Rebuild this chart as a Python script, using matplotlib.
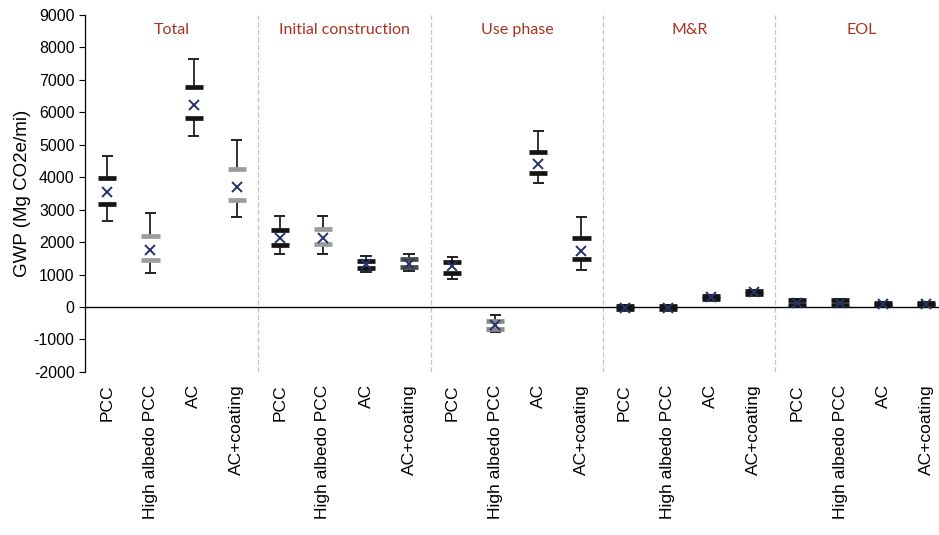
import numpy as np
import matplotlib.pyplot as plt

plt.rcParams['axes.unicode_minus'] = False

# group titles and the four pavement cases in each group
groups = ['Total', 'Initial construction', 'Use phase', 'M&R', 'EOL']
cases = ['PCC', 'High albedo PCC', 'AC', 'AC+coating']

# GWP statistics (Mg CO2e/mi), 20 categories in order
gwp_max = [4650, 2900, 7650, 5140,
           2800, 2800, 1570, 1640,
           1540, -240, 5420, 2770,
           60, 60, 370, 520,
           260, 260, 150, 150]
gwp_q3 = [3980, 2200, 6770, 4240,
          2380, 2390, 1415, 1490,
          1385, -440, 4780, 2125,
          30, 30, 330, 490,
          200, 200, 130, 130]
gwp_mean = [3530, 1760, 6210, 3700,
            2130, 2120, 1310, 1330,
            1250, -545, 4420, 1710,
            -20, -20, 300, 450,
            130, 130, 90, 90]
gwp_q1 = [3165, 1450, 5830, 3295,
          1920, 1950, 1200, 1230,
          1055, -680, 4140, 1487,
          -50, -50, 260, 410,
          60, 60, 50, 50]
gwp_min = [2660, 1035, 5275, 2760,
           1620, 1620, 1080, 1110,
           870, -760, 3830, 1130,
           -80, -80, 230, 380,
           20, 20, 20, 20]

# colour of the thick quartile bars per category
bar_colors = ['#151515', '#9c9c9c', '#151515', '#9c9c9c',
              '#151515', '#9c9c9c', '#151515', '#4a4a4a',
              '#151515', '#8a8a8a', '#151515', '#151515',
              '#151515', '#151515', '#151515', '#151515',
              '#151515', '#151515', '#151515', '#151515']

labels = cases * len(groups)
x = np.arange(len(labels))

fig = plt.figure(figsize=(9.39, 5.35), dpi=100)
ax = fig.add_axes([0.0905, 0.305, 0.912, 0.667])

ax.axhline(0, color='black', lw=1.0, zorder=1)
for i in range(1, len(groups)):
    ax.axvline(i * 4 - 0.5, color='#bcc3d6', lw=0.9, ls=(0, (4, 2)), zorder=0)

cap_w = 0.13
bar_w = 0.21
for i in x:
    ax.vlines(i, gwp_q3[i], gwp_max[i], color='#222222', lw=1.3, zorder=2)
    ax.vlines(i, gwp_min[i], gwp_q1[i], color='#222222', lw=1.3, zorder=2)
    ax.hlines([gwp_max[i], gwp_min[i]], i - cap_w, i + cap_w,
              color='#222222', lw=1.4, zorder=2)
    ax.hlines([gwp_q3[i], gwp_q1[i]], i - bar_w, i + bar_w,
              color=bar_colors[i], lw=3.4, zorder=3)
ax.plot(x, gwp_mean, ls='none', marker='x', ms=7.5, mew=1.4,
        color='#27326a', zorder=4)

for g, name in enumerate(groups):
    ax.text(g * 4 + 1.5, 8550, name, ha='center', va='center',
            fontsize=11.5, color='#a8321e', family='Lato')

ax.set_xlim(-0.52, 19.35)
ax.set_ylim(-2000, 9000)
ax.set_yticks(np.arange(-2000, 9001, 1000))
ax.tick_params(axis='y', labelsize=11.5, length=4, width=0.8, colors='black')
for t in ax.get_yticklabels():
    t.set_family('Liberation Sans')
ax.set_xticks(x)
ax.set_xticklabels(labels, rotation=90, fontsize=12.5, family='Liberation Sans')
ax.tick_params(axis='x', length=0, pad=9)
ax.set_ylabel('GWP (Mg CO2e/mi)', fontsize=13.5, family='Liberation Sans', labelpad=2)

for s in ['top', 'right', 'bottom']:
    ax.spines[s].set_visible(False)
ax.spines['left'].set_linewidth(0.9)

fig.savefig('out.png', dpi=100)
